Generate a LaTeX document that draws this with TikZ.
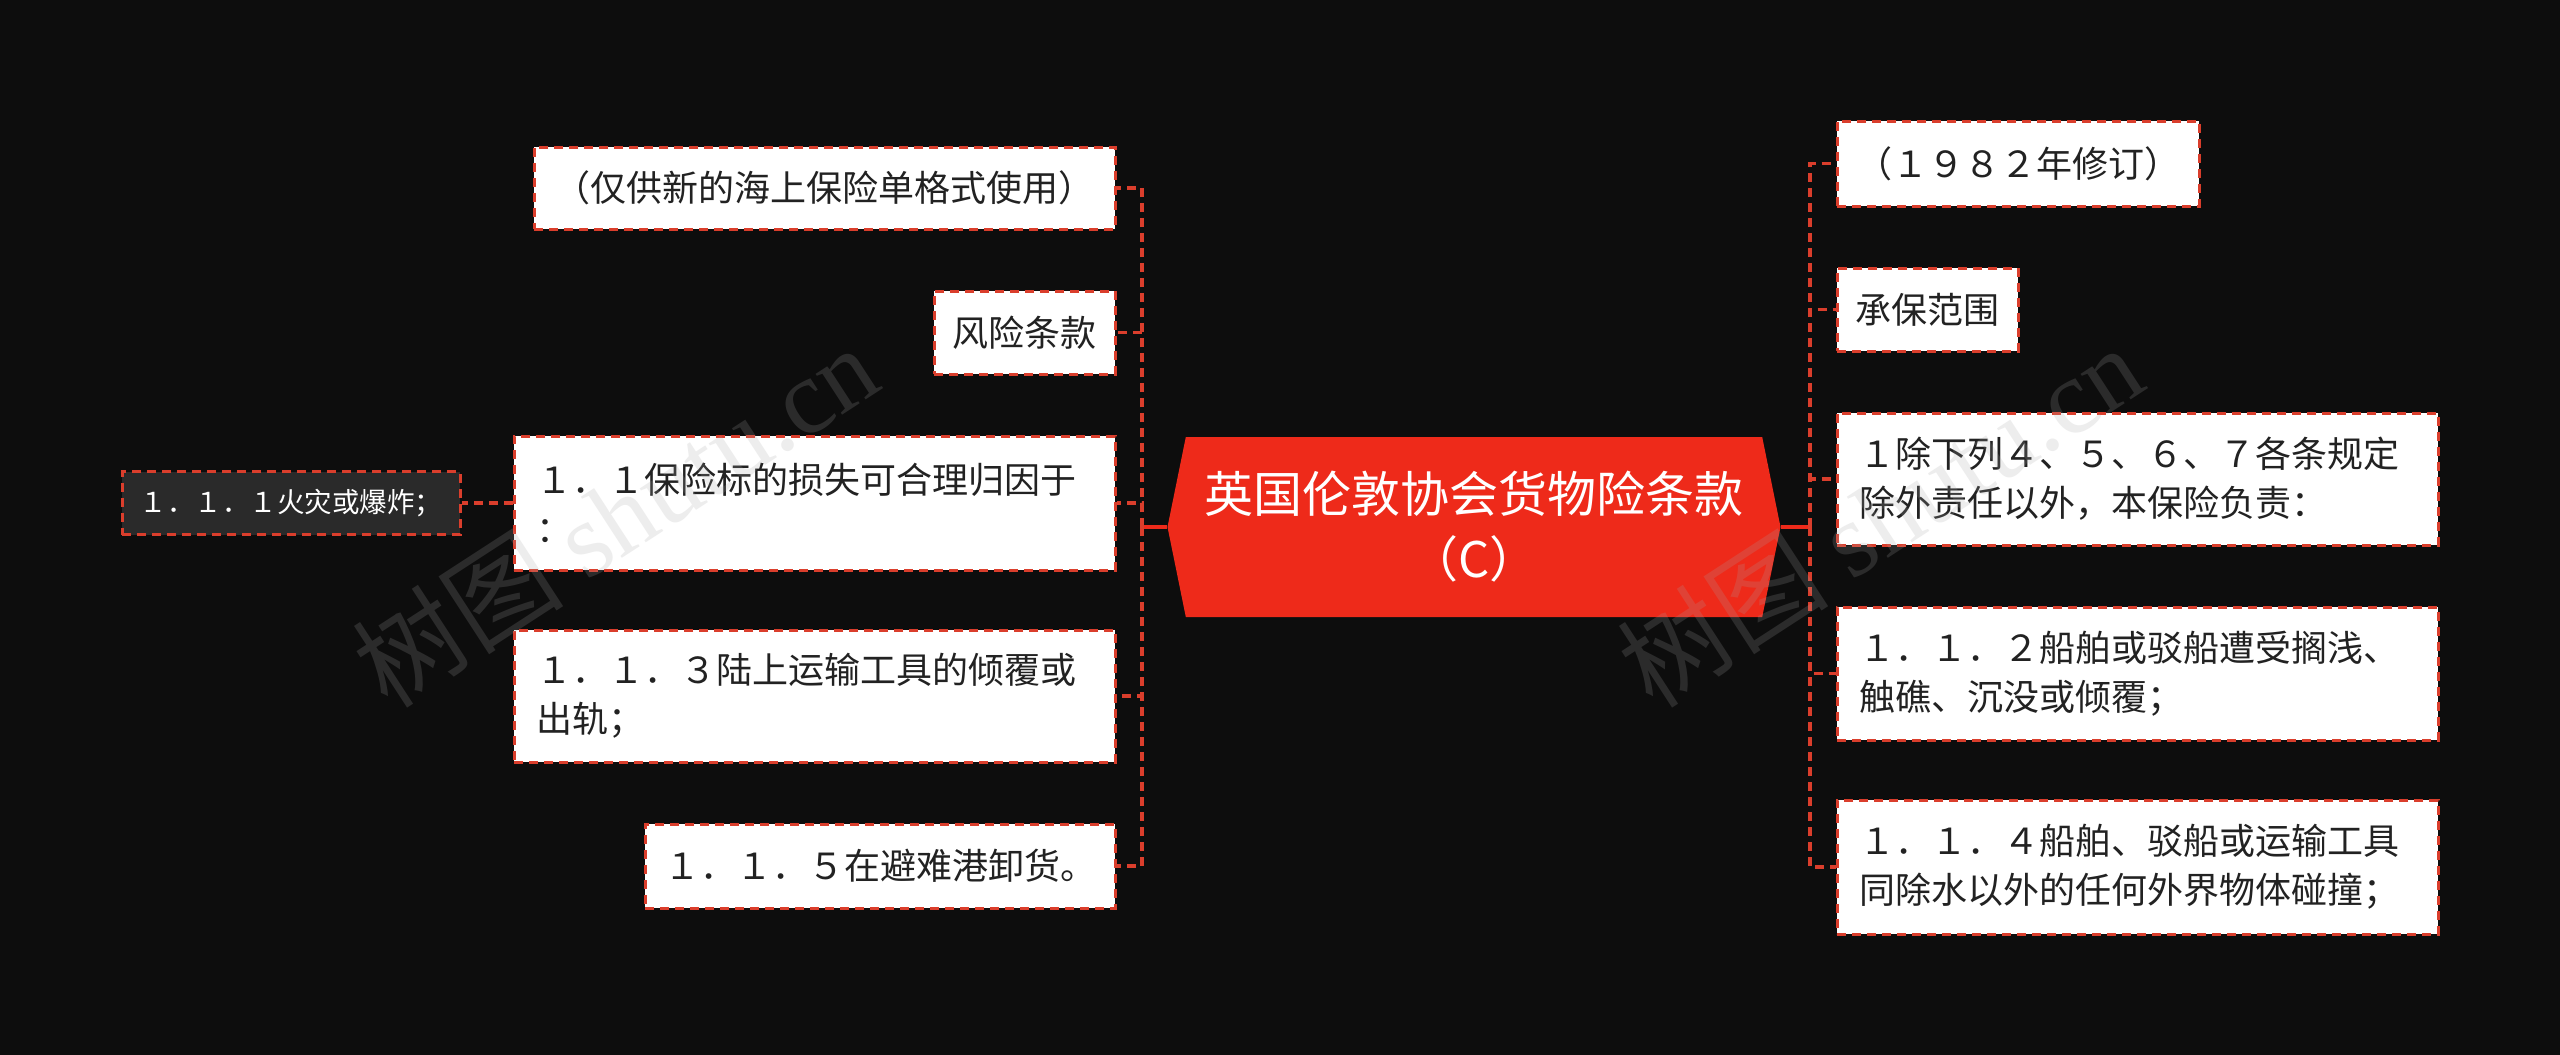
\documentclass[tikz,border=0pt]{standalone}
\usepackage{fontspec}
\setmainfont{Noto Sans CJK SC}
\newfontfamily\wmserif{Liberation Serif}
\usetikzlibrary{shapes.symbols}
\definecolor{bgc}{HTML}{0D0D0D}
\definecolor{cred}{HTML}{EE2A1A}
\definecolor{bord}{HTML}{DA3E2C}
\definecolor{darkbox}{HTML}{2A2A2A}
\definecolor{txt}{HTML}{222222}
\begin{document}
\begin{tikzpicture}[x=1pt,y=-1pt,
  box/.style={draw=bord, line width=3pt, dash pattern=on 9pt off 6pt, fill=white, text=txt,
    inner xsep=0pt, inner ysep=0pt, font=\fontsize{36}{49}\selectfont, anchor=center},
  mbox/.style={box, inner xsep=22pt, align=left},
  darkb/.style={draw=bord, line width=3pt, dash pattern=on 9pt off 6pt, fill=darkbox, text=white,
    inner sep=0pt, font=\fontsize{27.5}{30}\selectfont, anchor=center},
  central/.style={signal, signal to=west and east, signal pointer angle=157, fill=cred, draw=none,
    text=white, align=center, inner sep=0pt, font=\fontsize{49}{65}\selectfont},
  solidc/.style={draw=cred, line width=3.5pt},
  dashc/.style={draw=bord, line width=3.5pt, dash pattern=on 9pt off 6pt},
  wm/.style={text=gray!70, opacity=0.2, rotate=33, font=\fontsize{106}{106}\selectfont}
]
\fill[bgc] (0,0) rectangle (2560,1055);
\useasboundingbox (0,0) rectangle (2560,1055);

% central
\node[central, minimum width=613pt, minimum height=180pt] (c) at (1474,527)
  {英国伦敦协会货物险条款\\（C）};

% left boxes
\node[box, minimum width=581pt, minimum height=82pt] (A) at (824.5,188) {（仅供新的海上保险单格式使用）};
\node[box, minimum width=181pt, minimum height=83pt] (B) at (1024.5,332.5) {风险条款};
\node[mbox, text width=557pt, minimum height=134pt] (C) at (814.5,503) {１．１保险标的损失可合理归因于\\：};
\node[mbox, text width=557pt, minimum height=132pt] (D) at (814.5,696) {１．１．３陆上运输工具的倾覆或\\出轨；};
\node[box, minimum width=470pt, minimum height=84pt] (E) at (880,866) {１．１．５在避难港卸货。};
\node[darkb, minimum width=338pt, minimum height=63pt] (F) at (291,503) {１．１．１火灾或爆炸；};

% right boxes
\node[box, minimum width=362pt, minimum height=85pt] (R1) at (2018,163.5) {（１９８２年修订）};
\node[box, minimum width=181pt, minimum height=83pt] (R2) at (1927.5,309.5) {承保范围};
\node[mbox, text width=557pt, minimum height=132pt] (R3) at (2137.5,479) {１除下列４、５、６、７各条规定\\除外责任以外，本保险负责：};
\node[mbox, text width=557pt, minimum height=133pt] (R4) at (2137.5,673.5) {１．１．２船舶或驳船遭受搁浅、\\触礁、沉没或倾覆；};
\node[mbox, text width=557pt, minimum height=134pt] (R5) at (2137.5,867) {１．１．４船舶、驳船或运输工具\\同除水以外的任何外界物体碰撞；};

% connectors
\coordinate (bl) at (1142,527);
\coordinate (br) at (1810,527);
\draw[solidc] (c.west) -- (bl);
\draw[solidc] (c.east) -- (br);
\foreach \n in {A,B,C,D,E} { \draw[dashc] (bl) |- (\n.east); }
\foreach \n in {R1,R2,R3,R4,R5} { \draw[dashc] (br) |- (\n.west); }
\draw[dashc] (C.west) -- (F.east);

% watermarks
\node[wm] (wm1) at (615,515) {树图 {\wmserif shutu.cn}};
\node[wm] (wm2) at (1880,515) {树图 {\wmserif shutu.cn}};
\end{tikzpicture}
\end{document}
